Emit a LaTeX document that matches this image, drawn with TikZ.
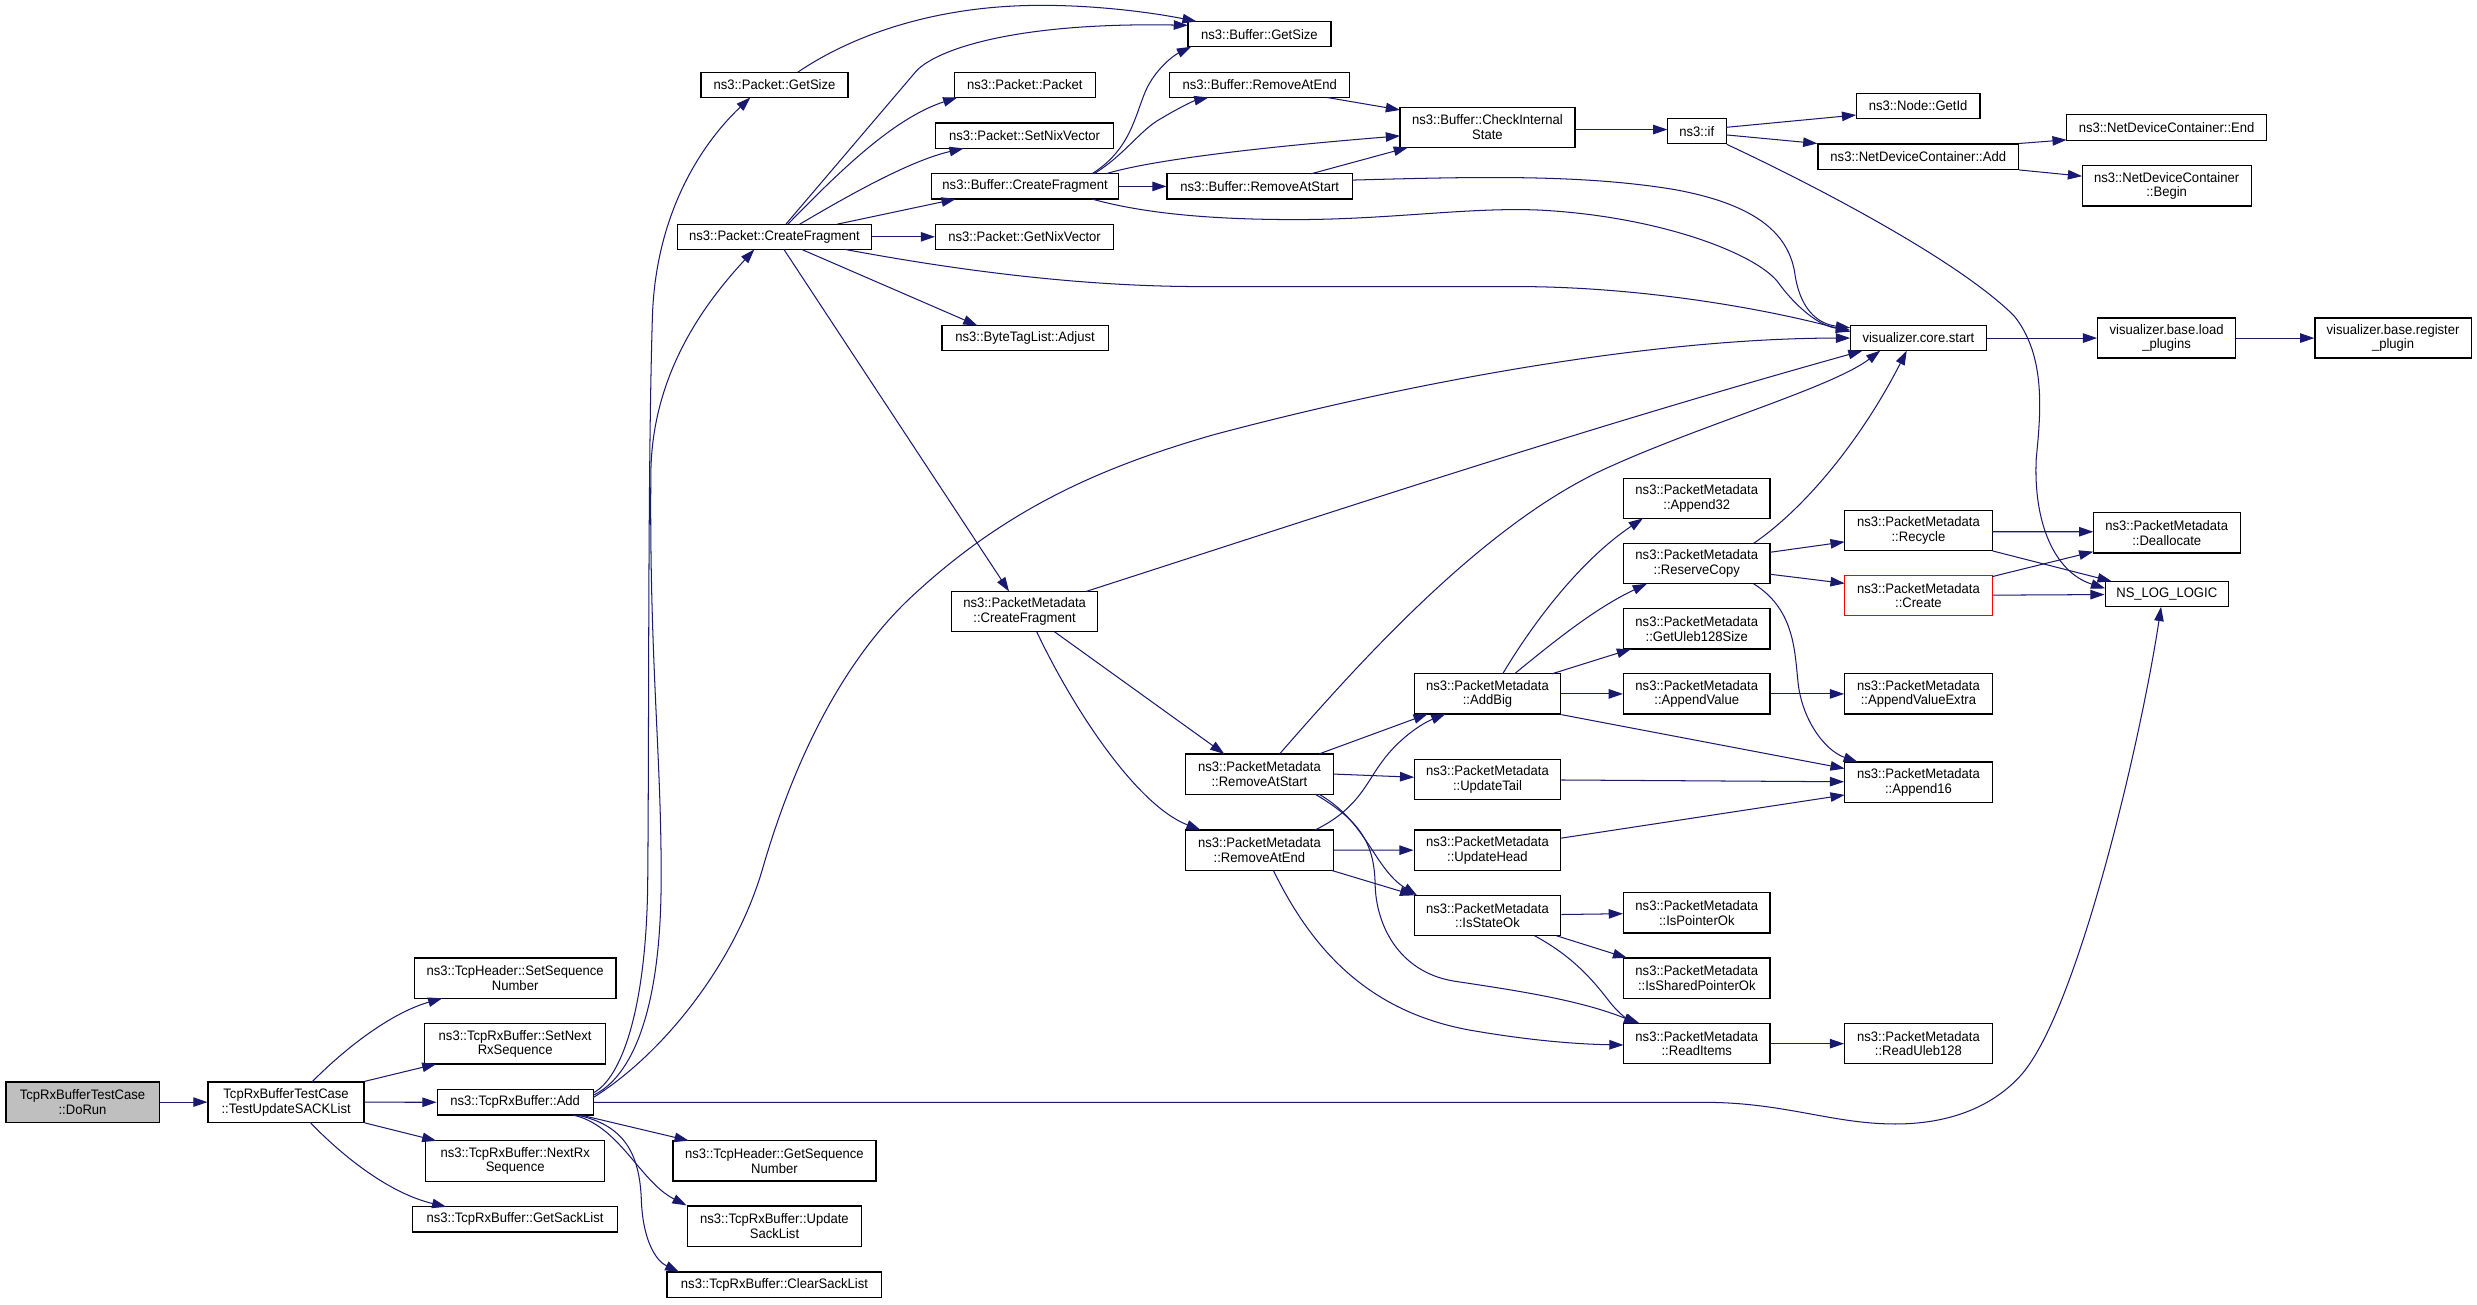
\documentclass[tikz,border=0pt]{standalone}
\usepackage{fontspec}
\setmainfont{Liberation Sans}[FakeStretch=0.95]
\usetikzlibrary{arrows.meta}
\definecolor{edgec}{HTML}{191970}
\definecolor{boxgray}{HTML}{BFBFBF}
\begin{document}
\begin{tikzpicture}[x=1pt,y=-1pt,
  nb/.style={draw=black, line width=0.75pt, fill=white, inner sep=0pt, align=center,
    font=\fontsize{8.7}{9.3}\selectfont},
  one/.style={minimum height=16pt},
  two/.style={minimum height=25.5pt},
  e/.style={draw=edgec, line width=0.65pt, -{Triangle[length=9pt,width=6pt]}}]
\fill[white] (0,0) rectangle (1568,825.5);
\useasboundingbox (0,0) rectangle (1568,825.5);

% column 0-2
\node[nb,two,fill=boxgray,minimum width=97pt] (dorun) at (52.25,697.65) {TcpRxBufferTestCase\\::DoRun};
\node[nb,two,minimum width=98.75pt] (tus) at (181.1,697.65) {TcpRxBufferTestCase\\::TestUpdateSACKList};
\node[nb,two,minimum width=127.75pt] (setseq) at (326.1,619.15) {ns3::TcpHeader::SetSequence\\Number};
\node[nb,two,minimum width=114.75pt] (setnext) at (326.1,660.75) {ns3::TcpRxBuffer::SetNext\\RxSequence};
\node[nb,one,minimum width=98.75pt] (add) at (326.1,697.8) {ns3::TcpRxBuffer::Add};
\node[nb,two,minimum width=113.25pt] (nextrx) at (326.1,734.9) {ns3::TcpRxBuffer::NextRx\\Sequence};
\node[nb,one,minimum width=130pt] (getsack) at (326,771.9) {ns3::TcpRxBuffer::GetSackList};
% column 3
\node[nb,two,minimum width=128.5pt] (getseq) at (490.25,734.8) {ns3::TcpHeader::GetSequence\\Number};
\node[nb,two,minimum width=110.5pt] (updsack) at (490.25,776.15) {ns3::TcpRxBuffer::Update\\SackList};
\node[nb,one,minimum width=136pt] (clrsack) at (490.25,813.2) {ns3::TcpRxBuffer::ClearSackList};
\node[nb,one,minimum width=93pt] (pgetsize) at (490.25,53.7) {ns3::Packet::GetSize};
\node[nb,one,minimum width=123pt] (pcf) at (490.25,149.9) {ns3::Packet::CreateFragment};
% column 4
\node[nb,one,minimum width=89.5pt] (ppacket) at (648.75,53.7) {ns3::Packet::Packet};
\node[nb,one,minimum width=112.75pt] (psetnix) at (648.6,85.9) {ns3::Packet::SetNixVector};
\node[nb,one,minimum width=118.75pt] (bcf) at (648.9,118) {ns3::Buffer::CreateFragment};
\node[nb,one,minimum width=112.75pt] (pgetnix) at (648.6,149.9) {ns3::Packet::GetNixVector};
\node[nb,one,minimum width=105.25pt] (btadj) at (648.9,214.1) {ns3::ByteTagList::Adjust};
\node[nb,two,minimum width=92.75pt] (pmcf) at (648.6,387.15) {ns3::PacketMetadata\\::CreateFragment};
% column 5
\node[nb,one,minimum width=90.5pt] (bgetsize) at (797.25,21.6) {ns3::Buffer::GetSize};
\node[nb,one,minimum width=113.75pt] (brmend) at (797.4,53.7) {ns3::Buffer::RemoveAtEnd};
\node[nb,one,minimum width=117.25pt] (brmstart) at (797.4,118) {ns3::Buffer::RemoveAtStart};
\node[nb,two,minimum width=93.5pt] (pmrmstart) at (797.25,490) {ns3::PacketMetadata\\::RemoveAtStart};
\node[nb,two,minimum width=93.5pt] (pmrmend) at (797.25,538.1) {ns3::PacketMetadata\\::RemoveAtEnd};
% column 6
\node[nb,two,minimum width=110.75pt] (bcheck) at (941.6,80.6) {ns3::Buffer::CheckInternal\\State};
\node[nb,two,minimum width=92.75pt] (addbig) at (941.6,439.25) {ns3::PacketMetadata\\::AddBig};
\node[nb,two,minimum width=92.75pt] (updtail) at (941.6,493.45) {ns3::PacketMetadata\\::UpdateTail};
\node[nb,two,minimum width=92.75pt] (updhead) at (941.6,538.2) {ns3::PacketMetadata\\::UpdateHead};
\node[nb,two,minimum width=92.75pt] (isstate) at (941.6,579.5) {ns3::PacketMetadata\\::IsStateOk};
% column 7
\node[nb,one,minimum width=37.25pt] (nsif) at (1074.1,83) {ns3::if};
\node[nb,two,minimum width=92.75pt] (append32) at (1074.1,315.4) {ns3::PacketMetadata\\::Append32};
\node[nb,two,minimum width=92.75pt] (reserve) at (1074.1,356.75) {ns3::PacketMetadata\\::ReserveCopy};
\node[nb,two,minimum width=92.75pt] (getuleb) at (1074.1,398.1) {ns3::PacketMetadata\\::GetUleb128Size};
\node[nb,two,minimum width=92.75pt] (appval) at (1074.1,439.25) {ns3::PacketMetadata\\::AppendValue};
\node[nb,two,minimum width=92.75pt] (isptr) at (1074.1,577.8) {ns3::PacketMetadata\\::IsPointerOk};
\node[nb,two,minimum width=92.75pt] (isshared) at (1074.1,619.15) {ns3::PacketMetadata\\::IsSharedPointerOk};
\node[nb,two,minimum width=92.75pt] (readitems) at (1074.1,660.65) {ns3::PacketMetadata\\::ReadItems};
% column 8
\node[nb,one,minimum width=78.4pt] (nodegetid) at (1214.2,67) {ns3::Node::GetId};
\node[nb,one,minimum width=127pt] (ndcadd) at (1214.3,99.2) {ns3::NetDeviceContainer::Add};
\node[nb,one,minimum width=86.4pt] (vcs) at (1214.4,214) {visualizer.core.start};
\node[nb,two,minimum width=93.35pt] (recycle) at (1214.4,335.65) {ns3::PacketMetadata\\::Recycle};
\node[nb,two,minimum width=93.35pt,draw=red] (create) at (1214.4,377) {ns3::PacketMetadata\\::Create};
\node[nb,two,minimum width=93.35pt] (appvalx) at (1214.4,439.25) {ns3::PacketMetadata\\::AppendValueExtra};
\node[nb,two,minimum width=93.35pt] (append16) at (1214.4,495.15) {ns3::PacketMetadata\\::Append16};
\node[nb,two,minimum width=93.35pt] (readuleb) at (1214.4,660.65) {ns3::PacketMetadata\\::ReadUleb128};
% column 9-10
\node[nb,one,minimum width=126.5pt] (ndcend) at (1371.5,80.7) {ns3::NetDeviceContainer::End};
\node[nb,two,minimum width=107pt] (ndcbegin) at (1371.5,117.65) {ns3::NetDeviceContainer\\::Begin};
\node[nb,minimum height=25.3pt,minimum width=87.2pt] (loadplug) at (1371.5,214) {visualizer.base.load\\\_plugins};
\node[nb,two,minimum width=93pt] (dealloc) at (1371.6,337.35) {ns3::PacketMetadata\\::Deallocate};
\node[nb,one,minimum width=78pt] (nslog) at (1371.6,376.15) {NS\_LOG\_LOGIC};
\node[nb,minimum height=25.3pt,minimum width=98.9pt] (regplug) at (1514.85,214) {visualizer.base.register\\\_plugin};

% ---------------- edges
\draw[e] (dorun) -- (tus);
\draw[e] ([shift={(16.4,-12.75)}]tus.center) .. controls (215,667) and (245,642) .. ([shift={(-46.1,12.75)}]setseq.center);
\draw[e] (tus.north east) -- ([shift={(-49.85,12.75)}]setnext.center);
\draw[e] (tus) -- (add);
\draw[e] (tus.south east) -- ([shift={(-49.85,-12.75)}]nextrx.center);
\draw[e] ([shift={(15.15,12.75)}]tus.center) .. controls (215,730) and (245,755) .. ([shift={(-43.5,-8)}]getsack.center);

% from Add
\draw[e] ([shift={(49.4,-6)}]add.center) .. controls (393,683) and (409,640) .. (410,560) .. controls (411,450) and (410,300) .. (413,200) .. controls (415,140) and (440,95) .. ([shift={(-15.25,8)}]pgetsize.center);
\draw[e] ([shift={(49.4,-4.5)}]add.center) .. controls (400,682) and (418,640) .. (418.5,560) .. controls (419,480) and (411,420) .. (412,300) .. controls (412.5,235) and (448,190) .. ([shift={(-12.75,8)}]pcf.center);
\draw[e] ([shift={(49.4,-3)}]add.center) .. controls (420,667) and (465,610) .. (482.5,550.7) .. controls (500,490) and (530,420) .. (580,375) .. controls (640,320) and (700,295) .. (767.5,275.4) .. controls (900,240) and (1050,214) .. ([shift={(-43.2,0)}]vcs.center);
\draw[e] (add.east) -- (1080,697.8) .. controls (1130,698) and (1160,711.5) .. (1199.8,711.5) .. controls (1235,711.5) and (1262,700) .. (1279.5,680.4) .. controls (1315,640) and (1355,470) .. ([shift={(-3.6,8)}]nslog.center);
\draw[e] ([shift={(41.4,8)}]add.center) -- ([shift={(-54.25,-12.75)}]getseq.center);
\draw[e] ([shift={(36.4,8)}]add.center) .. controls (392,712) and (405,748) .. (updsack.north west);
\draw[e] ([shift={(38.9,8)}]add.center) .. controls (395,712) and (405,730) .. (406,760) .. controls (407,785) and (415,798) .. ([shift={(-60.25,-8)}]clrsack.center);

% Packet::GetSize
\draw[e] ([shift={(14.75,-8)}]pgetsize.center) .. controls (540,22) and (590,5) .. (650,3.5) .. controls (690,2.5) and (730,8) .. ([shift={(-39.75,-8)}]bgetsize.center);

% Packet::CreateFragment
\draw[e] ([shift={(7.25,-8)}]pcf.center) -- (580,45) .. controls (592,32) and (640,14) .. ([shift={(-45.25,-5.6)}]bgetsize.center);
\draw[e] ([shift={(8.5,-8)}]pcf.center) .. controls (530,110) and (565,75) .. ([shift={(-42.75,8)}]ppacket.center);
\draw[e] ([shift={(16,-8)}]pcf.center) .. controls (535,125) and (575,102) .. ([shift={(-38.6,8)}]psetnix.center);
\draw[e] ([shift={(39.75,-8)}]pcf.center) -- ([shift={(-43.9,8)}]bcf.center);
\draw[e] (pcf) -- (pgetnix);
\draw[e] ([shift={(17.25,8)}]pcf.center) -- ([shift={(-30.15,-8)}]btadj.center);
\draw[e] ([shift={(6,8)}]pcf.center) -- ([shift={(-9.85,-12.75)}]pmcf.center);
\draw[e] ([shift={(44.75,8)}]pcf.center) .. controls (600,170) and (680,181.4) .. (760,181.4) -- (960,181.4) .. controls (1040,181.4) and (1120,196) .. ([shift={(-43.2,-4)}]vcs.center);

% Buffer::CreateFragment
\draw[e] ([shift={(42.35,-8)}]bcf.center) .. controls (715,95) and (718,75) .. (725,58) .. controls (731,44) and (743,35) .. ([shift={(-43.25,8)}]bgetsize.center);
\draw[e] ([shift={(43.6,-8)}]bcf.center) .. controls (712,98) and (722,82) .. (735,75) .. controls (745,69) and (755,64) .. ([shift={(-32.4,8)}]brmend.center);
\draw[e] ([shift={(51.1,-8)}]bcf.center) .. controls (730,101) and (800,93) .. ([shift={(-55.35,5.4)}]bcheck.center);
\draw[e] (bcf) -- (brmstart);
\draw[e] ([shift={(42.35,8)}]bcf.center) .. controls (720,134) and (760,139) .. (820,139) .. controls (880,139) and (930,131) .. (975,133) .. controls (1050,137) and (1110,160) .. (1125,178) .. controls (1135,192) and (1150,206) .. ([shift={(-43.2,-5)}]vcs.center);

% Buffer::RemoveAtEnd / RemoveAtStart
\draw[e] ([shift={(42.6,8)}]brmend.center) -- ([shift={(-55.35,-11)}]bcheck.center);
\draw[e] ([shift={(32.6,-8)}]brmstart.center) -- ([shift={(-50.35,12.75)}]bcheck.center);
\draw[e] ([shift={(58.6,-4)}]brmstart.center) .. controls (930,112) and (1000,110) .. (1060,120) .. controls (1115,130) and (1132,150) .. (1136,172) .. controls (1139,195) and (1150,205) .. ([shift={(-43.2,-6.5)}]vcs.center);

% CheckInternalState, if, NetDeviceContainer
\draw[e] ([shift={(55.375,1.4)}]bcheck.center) -- ([shift={(-18.625,-1)}]nsif.center);
\draw[e] ([shift={(18.625,-2.4)}]nsif.center) -- ([shift={(-39.2,5.8)}]nodegetid.center);
\draw[e] ([shift={(18.625,2.4)}]nsif.center) -- (ndcadd.north west);
\draw[e] (nsif.south east) .. controls (1150,118) and (1240,165) .. (1275,200) .. controls (1295,225) and (1292,260) .. (1289,290) .. controls (1287,330) and (1300,362) .. ([shift={(-39,-3.65)}]nslog.center);
\draw[e] (ndcadd.north east) -- ([shift={(-63.25,7.8)}]ndcend.center);
\draw[e] (ndcadd.south east) -- ([shift={(-53.5,-6.15)}]ndcbegin.center);

% visualizer
\draw[e] (vcs) -- (loadplug);
\draw[e] (loadplug) -- (regplug);

% PacketMetadata::CreateFragment
\draw[e] ([shift={(38.9,-12.75)}]pmcf.center) .. controls (850,322) and (1000,272) .. ([shift={(-35.4,8)}]vcs.center);
\draw[e] ([shift={(18.9,12.75)}]pmcf.center) -- ([shift={(-22.25,-12.75)}]pmrmstart.center);
\draw[e] ([shift={(7.65,12.75)}]pmcf.center) .. controls (680,450) and (720,510) .. ([shift={(-37.25,-12.75)}]pmrmend.center);

% RemoveAtStart (PM)
\draw[e] ([shift={(12.75,-12.75)}]pmrmstart.center) .. controls (860,420) and (940,330) .. (1020,295) .. controls (1080,268) and (1160,245) .. ([shift={(-24.15,8)}]vcs.center);
\draw[e] ([shift={(37.75,-12.75)}]pmrmstart.center) -- ([shift={(-37.85,12.75)}]addbig.center);
\draw[e] (pmrmstart.east) -- ([shift={(-46.375,-1.45)}]updtail.center);
\draw[e] ([shift={(37.75,12.75)}]pmrmstart.center) .. controls (865,520) and (870,550) .. ([shift={(-44.6,-12.75)}]isstate.center);
\draw[e] ([shift={(35.25,12.75)}]pmrmstart.center) .. controls (862,520) and (870,535) .. (870.5,560) .. controls (871,585) and (885,615) .. (920,621) .. controls (960,627) and (1000,633) .. ([shift={(-37.1,-12.75)}]readitems.center);

% RemoveAtEnd (PM)
\draw[e] ([shift={(35.25,-12.75)}]pmrmend.center) .. controls (860,512) and (865,495) .. (875,482) .. controls (885,468) and (900,458) .. ([shift={(-26.6,12.75)}]addbig.center);
\draw[e] (pmrmend) -- (updhead);
\draw[e] ([shift={(45.25,12.75)}]pmrmend.center) -- ([shift={(-46.375,-12.75)}]isstate.center);
\draw[e] ([shift={(8.75,12.75)}]pmrmend.center) .. controls (830,600) and (865,640) .. (930,652) .. controls (970,659) and (1000,661) .. ([shift={(-46.375,0.85)}]readitems.center);

% AddBig
\draw[e] ([shift={(9.65,-12.75)}]addbig.center) .. controls (970,395) and (1000,355) .. ([shift={(-34.1,12.75)}]append32.center);
\draw[e] ([shift={(17.15,-12.75)}]addbig.center) .. controls (985,405) and (1010,385) .. ([shift={(-31.6,12.75)}]reserve.center);
\draw[e] ([shift={(40.9,-12.75)}]addbig.center) -- ([shift={(-41.6,12.75)}]getuleb.center);
\draw[e] (addbig) -- (appval);
\draw[e] (addbig.south east) -- ([shift={(-46.675,-8.65)}]append16.center);

% ReserveCopy
\draw[e] ([shift={(35.9,-12.75)}]reserve.center) .. controls (1145,320) and (1180,275) .. ([shift={(-7.4,8)}]vcs.center);
\draw[e] ([shift={(46.375,-7.15)}]reserve.center) -- ([shift={(-46.675,7.35)}]recycle.center);
\draw[e] ([shift={(46.375,6.75)}]reserve.center) -- ([shift={(-46.675,-7.7)}]create.center);
\draw[e] ([shift={(35.9,12.75)}]reserve.center) .. controls (1135,385) and (1136,410) .. (1138,430) .. controls (1140,455) and (1155,475) .. ([shift={(-38.4,-12.75)}]append16.center);

% others
\draw[e] (appval) -- (appvalx);
\draw[e] (updtail) -- (append16);
\draw[e] ([shift={(46.375,-7.6)}]updhead.center) -- ([shift={(-46.675,8.05)}]append16.center);
\draw[e] ([shift={(46.675,0.95)}]recycle.center) -- ([shift={(-46.5,-0.75)}]dealloc.center);
\draw[e] (recycle.south east) -- ([shift={(-34.8,-8.15)}]nslog.center);
\draw[e] ([shift={(46.675,-12)}]create.center) -- ([shift={(-46.5,11.85)}]dealloc.center);
\draw[e] (create) -- (nslog);
\draw[e] (isstate) -- (isptr);
\draw[e] ([shift={(43.4,12.75)}]isstate.center) -- ([shift={(-44.1,-12.75)}]isshared.center);
\draw[e] ([shift={(29.65,12.75)}]isstate.center) .. controls (995,605) and (1008,620) .. (1018,633) .. controls (1024,641) and (1030,645) .. ([shift={(-36.1,-12.75)}]readitems.center);
\draw[e] (readitems) -- (readuleb);
\end{tikzpicture}
\end{document}
